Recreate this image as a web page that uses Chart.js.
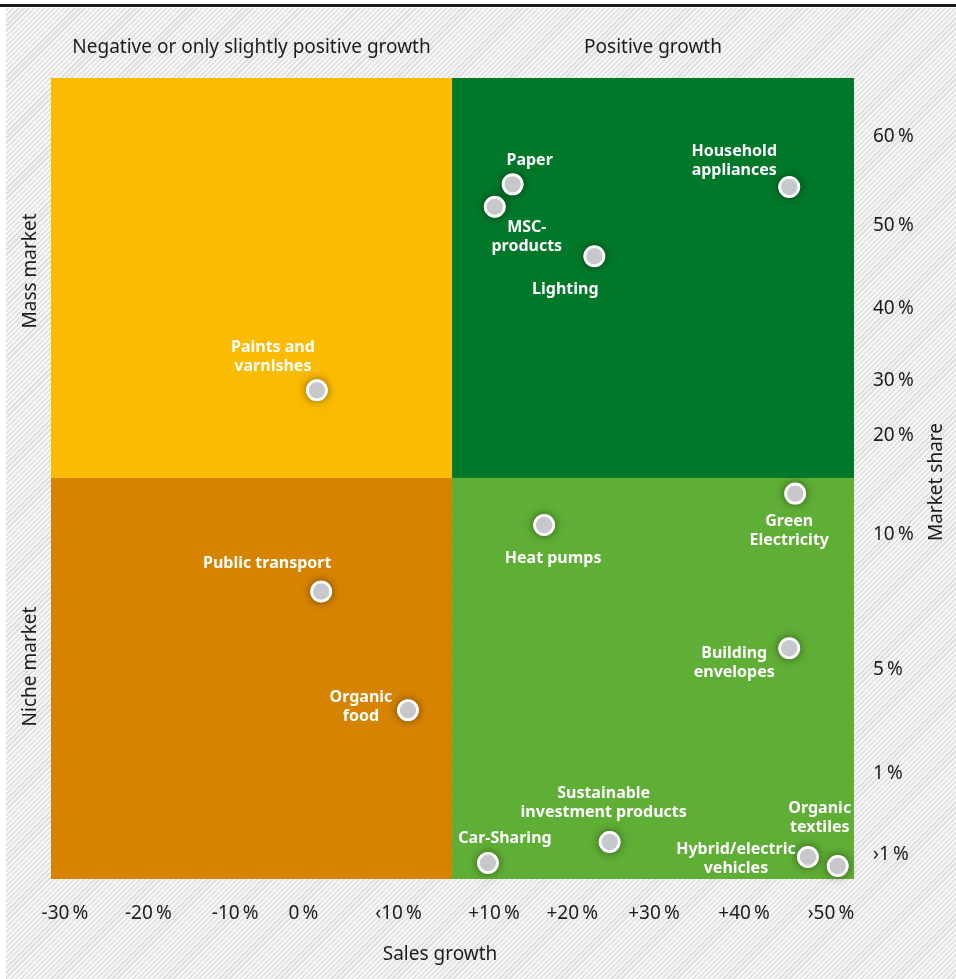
<!DOCTYPE html>
<html>
<head>
<meta charset="utf-8">
<script src="https://cdn.jsdelivr.net/npm/chart.js@4.4.1/dist/chart.umd.min.js"></script>
<style>
    body { margin: 0; background: #fff; }
    #wrap { position: relative; width: 956px; height: 979px; overflow: hidden; }
    #hatch {
        position: absolute; left: 6px; top: 8px; right: 0; bottom: 0;
        background: repeating-linear-gradient(-45deg, #f7f7f7 0px, #f7f7f7 2px, #e0e0e0 2px, #e0e0e0 3.6px);
    }
    #rule { position: absolute; left: 0; right: 0; top: 4px; height: 3px; background: #1a1a1a; }
    #matrix { position: absolute; left: 0; top: 0; }
</style>
</head>
<body>
<div id="wrap">
    <div id="hatch"></div>
    <div id="rule"></div>
    <canvas id="matrix" width="956" height="979"></canvas>
</div>
<script>
// Produktgruppen, Lage auf den beiden Achsen (Achsenpositionen, Tick = Index)
const products = [
    "Paper", "MSC-products", "Lighting", "Household appliances",
    "Paints and varnishes", "Heat pumps", "Green Electricity", "Public transport",
    "Building envelopes", "Organic food", "Sustainable investment products",
    "Car-Sharing", "Hybrid/electric vehicles", "Organic textiles"
];
const salesGrowth = [5.26, 5.05, 6.22, 8.51, 2.96, 5.63, 8.58, 3.01, 8.51, 4.03, 6.40, 4.97, 8.73, 9.08];
const marketShare = [7.46, 7.21, 6.66, 7.43, 5.17, 3.67, 4.02, 2.93, 2.30, 1.61, 0.145, -0.089, -0.022, -0.122];

// Achsenbeschriftung
const xTickLabels = ["-30\u2009%", "-20\u2009%", "-10\u2009%", "0\u2009%", "\u203910\u2009%", "+10\u2009%", "+20\u2009%", "+30\u2009%", "+40\u2009%", "\u203A50\u2009%"];
const xTickAt = [0, 0.98, 2.0, 2.8, 3.92, 5.04, 5.96, 6.92, 7.98, 9.0];
const yTickLabels = ["\u203A1\u2009%", "1\u2009%", "5\u2009%", "10\u2009%", "20\u2009%", "30\u2009%", "40\u2009%", "50\u2009%", "60\u2009%"];
const yTickAt = [0, 0.91, 2.06, 3.56, 4.67, 5.28, 6.08, 7.0, 7.99];

// Grenzen zwischen den Feldern
const growthSplit = 4.548;
const shareSplit = 4.194;

// Beschriftung der Punkte: Zeilen + Versatz zum Punkt in px
const labelLayout = [
    { lines: ["Paper"], dx: 17, dy: -24 },
    { lines: ["MSC-", "products"], dx: 32, dy: 21 },
    { lines: ["Lighting"], dx: -29, dy: 33 },
    { lines: ["Household", "appliances"], dx: -55, dy: -36 },
    { lines: ["Paints and", "varnishes"], dx: -44, dy: -43 },
    { lines: ["Heat pumps"], dx: 9, dy: 33 },
    { lines: ["Green", "Electricity"], dx: -6, dy: 28 },
    { lines: ["Public transport"], dx: -54, dy: -28 },
    { lines: ["Building", "envelopes"], dx: -55, dy: 5 },
    { lines: ["Organic", "food"], dx: -47, dy: -13 },
    { lines: ["Sustainable", "investment products"], dx: -6, dy: -49 },
    { lines: ["Car-Sharing"], dx: 17, dy: -25 },
    { lines: ["Hybrid/electric", "vehicles"], dx: -72, dy: -8 },
    { lines: ["Organic", "textiles"], dx: -18, dy: -58 }
];

const FONT = "'Noto Sans', 'Open Sans', sans-serif";
const TEXT = "#1c1c1c";
const DOT_R = 9.6;

const quadrantPlugin = {
    id: 'quadrants',
    beforeDatasetsDraw(chart) {
        const { ctx, chartArea: a, scales } = chart;
        const sx = scales.x.getPixelForValue(growthSplit);
        const sy = scales.y.getPixelForValue(shareSplit);
        ctx.save();
        ctx.fillStyle = "#fbbb00";
        ctx.fillRect(a.left, a.top, sx - a.left, sy - a.top);
        ctx.fillStyle = "#00782a";
        ctx.fillRect(sx, a.top, a.right - sx, sy - a.top);
        ctx.fillStyle = "#d68400";
        ctx.fillRect(a.left, sy, sx - a.left, a.bottom - sy);
        ctx.fillStyle = "#5fae35";
        ctx.fillRect(sx, sy, a.right - sx, a.bottom - sy);
        ctx.restore();
    }
};

// dunkler Schein um die Punkte, nur nach außen
const shadowPlugin = {
    id: 'pointShadow',
    beforeDatasetDraw(chart) {
        const { ctx } = chart;
        const meta = chart.getDatasetMeta(0);
        ctx.save();
        ctx.shadowColor = "rgba(0,0,0,0.55)";
        ctx.shadowBlur = 10;
        ctx.fillStyle = "#ffffff";
        meta.data.forEach(pt => {
            ctx.beginPath();
            ctx.arc(pt.x, pt.y, DOT_R + 1, 0, Math.PI * 2);
            ctx.fill();
        });
        ctx.restore();
    }
};

const pointLabelPlugin = {
    id: 'pointLabels',
    afterDatasetsDraw(chart) {
        const { ctx } = chart;
        const meta = chart.getDatasetMeta(0);
        ctx.save();
        ctx.fillStyle = "#ffffff";
        ctx.font = "bold 16px " + FONT;
        ctx.textAlign = "center";
        ctx.textBaseline = "middle";
        meta.data.forEach((pt, i) => {
            const l = labelLayout[i];
            l.lines.forEach((line, j) => {
                ctx.fillText(line, pt.x + l.dx, pt.y + l.dy + j * 19);
            });
        });
        ctx.restore();
    }
};

const headingPlugin = {
    id: 'headings',
    afterDraw(chart) {
        const { ctx, chartArea: a, scales } = chart;
        const sx = scales.x.getPixelForValue(growthSplit);
        const sy = scales.y.getPixelForValue(shareSplit);
        ctx.save();
        ctx.fillStyle = TEXT;
        ctx.font = "19px " + FONT;
        ctx.textAlign = "center";
        ctx.textBaseline = "middle";
        ctx.fillText("Negative or only slightly positive growth", (a.left + sx) / 2, 48);
        ctx.fillText("Positive growth", (sx + a.right) / 2, 48);
        ctx.fillText("Sales growth", 440, 955);

        ctx.save();
        ctx.translate(31, (a.top + sy) / 2 - 7);
        ctx.rotate(-Math.PI / 2);
        ctx.fillText("Mass market", 0, 0);
        ctx.restore();

        ctx.save();
        ctx.translate(31, (sy + a.bottom) / 2 - 12);
        ctx.rotate(-Math.PI / 2);
        ctx.fillText("Niche market", 0, 0);
        ctx.restore();

        ctx.save();
        ctx.translate(937, 482);
        ctx.rotate(-Math.PI / 2);
        ctx.fillText("Market share", 0, 0);
        ctx.restore();
        ctx.restore();
    }
};

const points = salesGrowth.map((g, i) => ({ x: g, y: marketShare[i] }));

const ctx = document.getElementById('matrix').getContext('2d');
const chart = new Chart(ctx, {
    type: 'scatter',
    data: {
        datasets: [{
            label: 'Produktgruppen',
            data: points,
            pointRadius: DOT_R,
            pointHoverRadius: DOT_R,
            pointBorderWidth: 2.8,
            pointBackgroundColor: '#c7c8cc',
            pointBorderColor: '#ffffff',
            clip: false
        }]
    },
    options: {
        responsive: false,
        animation: false,
        layout: { padding: { top: 78, left: 51, right: 0, bottom: 0 } },
        plugins: {
            legend: { display: false },
            tooltip: { enabled: false }
        },
        scales: {
            x: {
                type: 'linear',
                min: -0.1645,
                max: 9.271,
                grid: { display: false, drawTicks: false },
                border: { display: false },
                afterBuildTicks: (scale) => { scale.ticks = xTickAt.map(v => ({ value: v })); },
                afterFit: (scale) => { scale.height = 100; },
                ticks: {
                    padding: 23,
                    color: TEXT,
                    font: { family: FONT, size: 19 },
                    maxRotation: 0,
                    autoSkip: false,
                    callback: (value, index) => xTickLabels[index]
                }
            },
            y: {
                type: 'linear',
                position: 'right',
                min: -0.267,
                max: 8.643,
                grid: { display: false, drawTicks: false },
                border: { display: false },
                afterBuildTicks: (scale) => { scale.ticks = yTickAt.map(v => ({ value: v })); },
                afterFit: (scale) => { scale.width = 102; },
                ticks: {
                    padding: 19,
                    color: TEXT,
                    font: { family: FONT, size: 19 },
                    autoSkip: false,
                    callback: (value, index) => yTickLabels[index]
                }
            }
        }
    },
    plugins: [quadrantPlugin, shadowPlugin, pointLabelPlugin, headingPlugin]
});
</script>
</body>
</html>
